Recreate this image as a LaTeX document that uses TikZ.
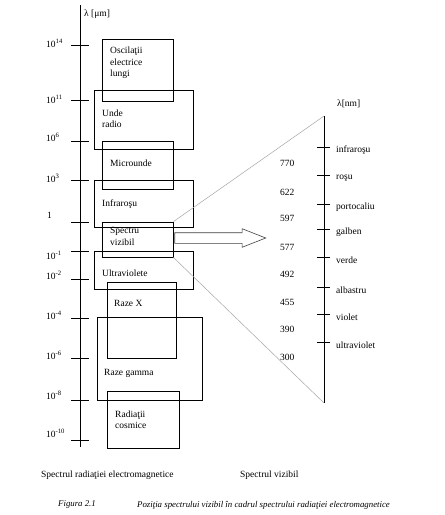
\documentclass[tikz,border=0pt]{standalone}
\usepackage{fontspec}
\setmainfont{Liberation Serif}
\usetikzlibrary{shapes.arrows}
\begin{document}
\begin{tikzpicture}[
  x=1pt, y=-1pt,
  font=\fontsize{9.5}{11.5}\selectfont,
  emrbox/.style={rectangle, draw, line width=0.8pt, inner sep=0pt},
  lbl/.style={anchor=west, inner sep=0pt, align=left},
  axisline/.style={line width=0.8pt},
  tickline/.style={line width=0.8pt},
  zoomline/.style={gray!70, line width=0.5pt},
  bigarrow/.style={single arrow, draw=black!75, line width=0.6pt, anchor=tail, inner xsep=0pt, inner ysep=5pt, single arrow head extend=4pt, single arrow tip angle=43, minimum height=91pt},
  capt/.style={anchor=west, inner sep=0pt, font=\fontsize{8.8}{10.5}\selectfont\itshape}
]

\path [fill=white, use as bounding box] (0,0) rectangle (445,515);

\node (oscbox) [emrbox, minimum width=71pt, minimum height=62pt] at (137.5, 70) {};
\node (radiobox) [emrbox, minimum width=99pt, minimum height=59pt] at (143.5, 119.5) {};
\node (microbox) [emrbox, minimum width=71pt, minimum height=48pt] at (137.5, 165) {};
\node (irbox) [emrbox, minimum width=99pt, minimum height=47pt] at (143.5, 203.5) {};
\node (svbox) [emrbox, minimum width=71pt, minimum height=35pt] at (137.5, 239.5) {};
\node (uvbox) [emrbox, minimum width=99pt, minimum height=38pt] at (143.5, 270) {};
\node (xbox) [emrbox, minimum width=69pt, minimum height=76pt] at (141.5, 320) {};
\node (gammabox) [emrbox, minimum width=105pt, minimum height=83pt] at (149.5, 358.5) {};
\node (cosmicbox) [emrbox, minimum width=72pt, minimum height=57pt] at (143, 419.5) {};

\node (osctext) [lbl] at (110, 63) {Oscilaţii\\electrice\\lungi};
\node (radiotext) [lbl] at (102, 118.5) {Unde\\radio};
\node (microtext) [lbl] at (110, 163) {Microunde};
\node (irtext) [lbl] at (102, 204) {Infraroşu};
\node (svtext) [lbl] at (110, 236.5) {Spectru\\vizibil};
\node (uvtext) [lbl] at (102, 273) {Ultraviolete};
\node (xtext) [lbl] at (114, 303) {Raze X};
\node (gammatext) [lbl] at (104, 373) {Raze gamma};
\node (cosmictext) [lbl] at (115, 419.5) {Radiaţii\\cosmice};

\coordinate (emtop) at (80, 5);
\coordinate (embot) at (80, 447);
\draw [axisline] (emtop) -- (embot);
\node (umlabel) [lbl] at (84, 14) {λ [μm]};
\foreach \ty/\ly/\ex in {45/43/14, 100.7/99/11, 141/137/6, 180/178/3, 251/255/-1, 279/275/-2, 318/315/-4, 358/355/-6, 400/395/-8, 440/433/-10} {
  \draw [tickline] (71, \ty) -- (89, \ty);
  \node (pow\ex) [lbl] at (46, \ly) {10\textsuperscript{\ex}};
}
\draw [tickline] (71, 222) -- (89, 222);
\node (powzero) [lbl] at (47, 215) {1};

\coordinate (vtop) at (324, 116);
\coordinate (vbot) at (324, 403);
\draw [axisline] (vtop) -- (vbot);
\node (nmlabel) [lbl] at (337, 104) {λ[nm]};
\foreach \ty/\col [count=\i] in {147/infraroşu, 175/roşu, 204/portocaliu, 229/galben, 257/verde, 287/albastru, 314/violet, 342/ultraviolet} {
  \draw [tickline] (317, \ty) -- (330, \ty);
  \node (col\i) [lbl] at (336, \ty+3) {\col};
}
\foreach \ny/\nm in {163/770, 192/622, 218/597, 247/577, 274/492, 302/455, 329/390, 357/300}
  \node (nm\nm) [lbl] at (280, \ny) {\nm};

\draw [zoomline] (svbox.north east) -- (vtop);
\draw [zoomline] (svbox.south east) -- (vbot);
\node (zoomarr) [bigarrow] at ([xshift=1pt, yshift=1.5pt]svbox.east) {};

\node (emrlabel) [lbl] at (41, 475) {Spectrul radiaţiei electromagnetice};
\node (vislabel) [lbl] at (240, 475) {Spectrul vizibil};
\node (fignum) [capt] at (58, 505) {Figura 2.1};
\node (figtitle) [capt] at (137, 505) {Poziţia spectrului vizibil în cadrul spectrului radiaţiei electromagnetice};

\end{tikzpicture}
\end{document}
